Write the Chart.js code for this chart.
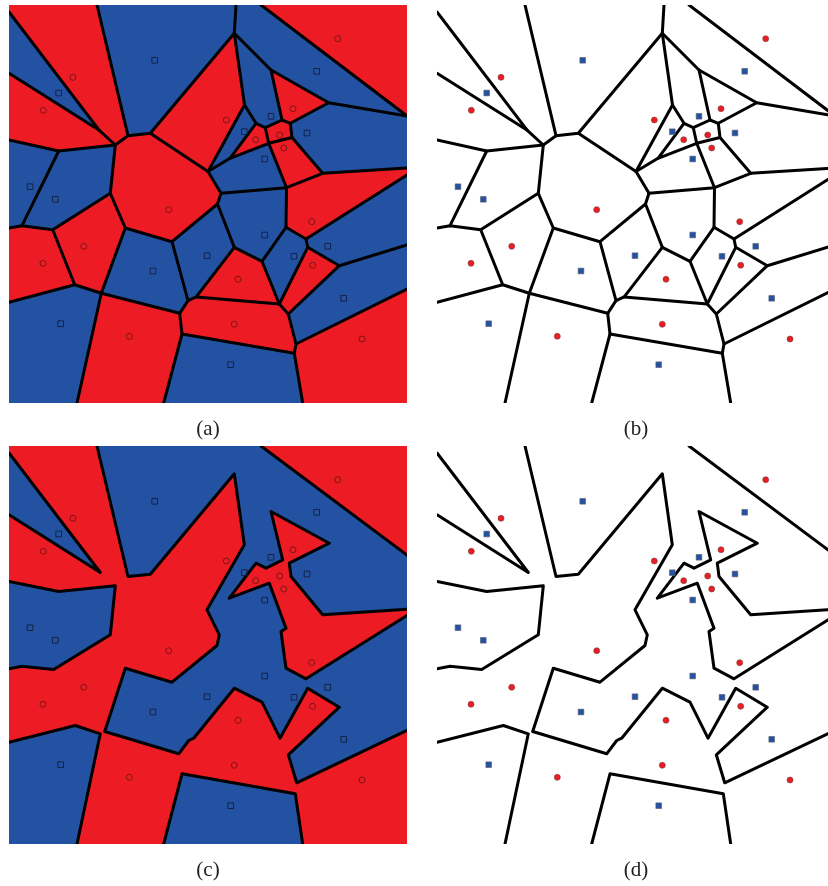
<!DOCTYPE html>
<html>
<head>
<meta charset="utf-8">
<script src="https://cdn.jsdelivr.net/npm/chart.js@4.4.1/dist/chart.umd.min.js"></script>
<style>
  html, body { margin: 0; padding: 0; background: #fff; overflow: hidden; width: 828px; height: 886px; }
  canvas { position: absolute; }
</style>
</head>
<body>
<canvas id="chartA" width="398" height="441" style="left:9px;top:5px"></canvas>
<canvas id="chartB" width="398" height="441" style="left:437px;top:5px"></canvas>
<canvas id="chartC" width="398" height="441" style="left:9px;top:446px"></canvas>
<canvas id="chartD" width="398" height="441" style="left:437px;top:446px"></canvas>
<script>
const SIZE = 398;

// sites (panel units, y measured downwards)
const redSites = [
  [328.7, 33.7], [64, 72.3], [34.3, 105.3], [284, 103.7], [217.3, 115], [270.7, 130],
  [246.7, 134.7], [274.7, 143], [159.7, 204.7], [302.7, 216.7], [74.7, 241.3], [34, 258.3],
  [303.7, 260.3], [229, 274.3], [225.3, 319.3], [120.3, 331.3], [353, 334]
];
const blueSites = [
  [145.7, 55.3], [307.7, 66.3], [49.7, 88], [262, 111.3], [235.3, 126.7], [298, 128],
  [255.7, 154], [21, 181.7], [46.3, 194.3], [255.7, 230], [318.7, 241.3], [198, 250.7],
  [285, 251.3], [144, 266], [334.7, 293.3], [51.7, 318.7], [221.7, 359.7]
];

// cell edges of (a)/(b): vertices, then chains of vertex indices
const cellPts = [
  [0, 7], [0, 68.3], [88, 0], [0, 135], [0, 223], [0, 297.3], [227, 0], [252, 0],
  [398, 111], [398, 163], [398, 170], [398, 240], [398, 284], [68, 398], [154.7, 398], [293.7, 398],
  [90.3, 125.3], [106.3, 140], [119, 130.7], [141.3, 128.3], [49.7, 146], [101.3, 188.3],
  [225.3, 28.3], [319.7, 97.7], [262, 65], [235.5, 100], [199, 166.5], [247, 118.3],
  [221, 153.3], [212, 188.3], [256.3, 122.7], [273, 115], [281.3, 118.3], [259.7, 138.3],
  [283, 132.5], [313.7, 168.3], [277.5, 182.7], [225.3, 242.3], [13, 220.7], [43.7, 224.7],
  [65.7, 279.7], [92.3, 288.3], [116.3, 223], [163, 236.7], [179, 295.7], [170.7, 308.3],
  [173, 329], [208.5, 199], [253, 256.3], [277, 222.3], [297, 234], [298.7, 242.3],
  [330.3, 260.7], [270.3, 299], [279.3, 309], [287, 339], [285.3, 348.3], [187.2, 291.9]
];
const cellPaths = [
  [0, 16, 17], [1, 16], [2, 18], [17, 18, 19, 22], [19, 26], [3, 20, 17], [20, 38],
  [17, 21, 39], [21, 42], [6, 22, 25], [22, 24, 23, 8], [7, 8], [24, 31], [25, 26],
  [25, 27, 30, 31, 32, 23], [30, 33], [32, 34], [33, 34, 35, 9], [27, 28, 33], [26, 28],
  [26, 29], [35, 36], [33, 36], [36, 29], [36, 49], [29, 47], [43, 47, 37],
  [4, 38, 39, 40, 5], [40, 41, 42, 43, 44, 45], [41, 45], [41, 13], [45, 46, 14], [46, 56],
  [44, 57, 37], [57, 53], [37, 48, 49, 50, 10], [48, 53], [50, 51, 52, 11], [52, 54],
  [51, 53, 54, 55, 12], [55, 56, 15]
];

// class boundaries of (c)/(d)
const boundPts = [
  [0, 7], [91.3, 126.5], [0, 68.8],
  [88, 0], [119, 130.5], [141.3, 128.2], [225.3, 27.8], [235.3, 98.8], [198, 163.8],
  [210.3, 188.8], [208, 199.5], [163, 236.2], [116.3, 222.2], [95.7, 285.5], [169.7, 307.8],
  [179.7, 294.5], [184.7, 292.2], [225.3, 242.2], [253, 256.2], [271, 292.2], [298.7, 242.2],
  [330.3, 261.2], [279.3, 308.8], [287.7, 336.8], [398, 284.3],
  [0, 135.5], [49.7, 145.5], [106.3, 139.8], [101.3, 188.8], [44.7, 223.5], [13, 220.2], [0, 222.8],
  [0, 296.2], [66.3, 279.5], [91.3, 287.8], [68, 398],
  [154.7, 398], [173, 327.8], [286.3, 347.8], [293.7, 398],
  [252, 0], [398, 109],
  [398, 163.3], [313.7, 168.8], [282, 130.5], [280.3, 117.2], [320.3, 97.2], [262, 65.5],
  [273.7, 113.8], [257, 122.2], [247, 117.2], [220.3, 152.2], [260.3, 137.2], [277, 182.2],
  [272, 185.5], [277, 222.2], [297, 232.8], [398, 169.5]
];
const boundPaths = [
  [0, 1, 2],
  [3, 4, 5, 6, 7, 8, 9, 10, 11, 12, 13, 14, 15, 16, 17, 18, 19, 20, 21, 22, 23, 24],
  [25, 26, 27, 28, 29, 30, 31],
  [32, 33, 34, 35],
  [36, 37, 38, 39],
  [40, 41],
  [42, 43, 44, 45, 46, 47, 48, 49, 50, 51, 52, 53, 54, 55, 56, 57]
];

const panelLabels = ['(a)', '(b)', '(c)', '(d)'];

const RED = 'rgb(237, 28, 36)';
const BLUE = 'rgb(35, 82, 163)';

function insidePoly(pt, poly) {
  let inside = false;
  for (let i = 0, j = poly.length - 1; i < poly.length; j = i++) {
    const a = poly[i], b = poly[j];
    if ((a.y > pt[1]) !== (b.y > pt[1]) &&
        pt[0] < (b.x - a.x) * (pt[1] - a.y) / (b.y - a.y) + a.x) inside = !inside;
  }
  return inside;
}

// walk the planar graph (lines + frame) to get the enclosed regions
function buildFaces(pts, paths) {
  const verts = pts.map(p => ({ x: p[0], y: p[1] }));
  [[0, 0], [SIZE, 0], [SIZE, SIZE], [0, SIZE]].forEach(c => verts.push({ x: c[0], y: c[1] }));
  const adj = verts.map(() => new Set());
  const link = (a, b) => { if (a !== b) { adj[a].add(b); adj[b].add(a); } };
  paths.forEach(p => { for (let i = 1; i < p.length; i++) link(p[i - 1], p[i]); });

  const onFrame = v => v.x <= 0.01 || v.y <= 0.01 || v.x >= SIZE - 0.01 || v.y >= SIZE - 0.01;
  const perim = v => {
    if (v.y <= 0.01) return v.x;
    if (v.x >= SIZE - 0.01) return SIZE + v.y;
    if (v.y >= SIZE - 0.01) return 3 * SIZE - v.x;
    return 4 * SIZE - v.y;
  };
  const frame = verts.map((v, i) => i).filter(i => onFrame(verts[i]))
    .sort((a, b) => perim(verts[a]) - perim(verts[b]));
  frame.forEach((n, i) => link(n, frame[(i + 1) % frame.length]));

  const ang = (i, j) => Math.atan2(verts[j].y - verts[i].y, verts[j].x - verts[i].x);
  const nbr = verts.map((v, i) => [...adj[i]].sort((a, b) => ang(i, a) - ang(i, b)));
  const used = new Set();
  const faces = [];
  nbr.forEach((list, i) => list.forEach(j => {
    if (used.has(i + ',' + j)) return;
    const face = [];
    let a = i, b = j;
    while (!used.has(a + ',' + b)) {
      used.add(a + ',' + b);
      face.push(verts[a]);
      const around = nbr[b];
      const k = around.indexOf(a);
      const c = around[(k - 1 + around.length) % around.length];
      a = b; b = c;
    }
    faces.push(face);
  }));

  const area = f => Math.abs(f.reduce((s, p, i) => {
    const q = f[(i + 1) % f.length];
    return s + p.x * q.y - q.x * p.y;
  }, 0) / 2);
  const outer = faces.reduce((m, f, i) => area(f) > area(faces[m]) ? i : m, 0);
  return faces.filter((f, i) => i !== outer).map(f => ({
    pts: f,
    color: blueSites.some(s => insidePoly(s, f)) ? BLUE : RED
  }));
}

const cellGeom = { pts: cellPts, paths: cellPaths, faces: buildFaces(cellPts, cellPaths) };
const boundGeom = { pts: boundPts, paths: boundPaths, faces: buildFaces(boundPts, boundPaths) };

function regionPlugin(geom, filled) {
  return {
    id: 'regions',
    beforeDatasetsDraw(chart) {
      const { ctx, chartArea, scales: { x, y } } = chart;
      const px = p => [x.getPixelForValue(p[0]), y.getPixelForValue(p[1])];
      ctx.save();
      ctx.beginPath();
      ctx.rect(chartArea.left, chartArea.top, chartArea.width, chartArea.height);
      ctx.clip();
      if (filled) {
        geom.faces.forEach(f => {
          ctx.beginPath();
          f.pts.forEach((p, i) => {
            const [cx, cy] = px([p.x, p.y]);
            if (i === 0) ctx.moveTo(cx, cy); else ctx.lineTo(cx, cy);
          });
          ctx.closePath();
          ctx.fillStyle = f.color;
          ctx.fill();
          ctx.strokeStyle = f.color;
          ctx.lineWidth = 1;
          ctx.stroke();
        });
      }
      ctx.strokeStyle = '#000';
      ctx.lineWidth = 3;
      ctx.lineJoin = 'round';
      ctx.lineCap = 'round';
      geom.paths.forEach(path => {
        ctx.beginPath();
        path.forEach((n, i) => {
          const [cx, cy] = px(geom.pts[n]);
          if (i === 0) ctx.moveTo(cx, cy); else ctx.lineTo(cx, cy);
        });
        ctx.stroke();
      });
      ctx.restore();
    }
  };
}

function makeChart(id, label, geom, filled) {
  const toXY = arr => arr.map(([x, y]) => ({ x, y }));
  new Chart(document.getElementById(id), {
    type: 'scatter',
    data: {
      datasets: [{
        label: 'red',
        data: toXY(redSites),
        pointStyle: 'circle',
        pointRadius: 3,
        backgroundColor: filled ? 'rgba(0,0,0,0)' : RED,
        borderColor: filled ? 'rgb(110, 20, 20)' : 'rgb(120, 60, 60)',
        borderWidth: filled ? 0.9 : 0.6
      }, {
        label: 'blue',
        data: toXY(blueSites),
        pointStyle: 'rect',
        pointRadius: 4,
        backgroundColor: filled ? 'rgba(0,0,0,0)' : BLUE,
        borderColor: filled ? 'rgb(20, 30, 60)' : 'rgb(90, 90, 110)',
        borderWidth: filled ? 0.9 : 0.6
      }]
    },
    options: {
      responsive: false,
      animation: false,
      devicePixelRatio: 1,
      events: [],
      layout: { padding: 0, autoPadding: false },
      scales: {
        x: { type: 'linear', min: 0, max: SIZE, display: false },
        y: { type: 'linear', min: 0, max: SIZE, reverse: true, display: false }
      },
      plugins: {
        legend: { display: false },
        tooltip: { enabled: false },
        title: {
          display: true,
          text: label,
          position: 'bottom',
          color: '#222',
          font: { family: "'Liberation Serif', 'DejaVu Serif', serif", size: 21, weight: 'normal', lineHeight: 1 },
          padding: { top: 16, bottom: 6 }
        }
      }
    },
    plugins: [regionPlugin(geom, filled)]
  });
}

makeChart('chartA', panelLabels[0], cellGeom, true);
makeChart('chartB', panelLabels[1], cellGeom, false);
makeChart('chartC', panelLabels[2], boundGeom, true);
makeChart('chartD', panelLabels[3], boundGeom, false);
</script>
</body>
</html>
